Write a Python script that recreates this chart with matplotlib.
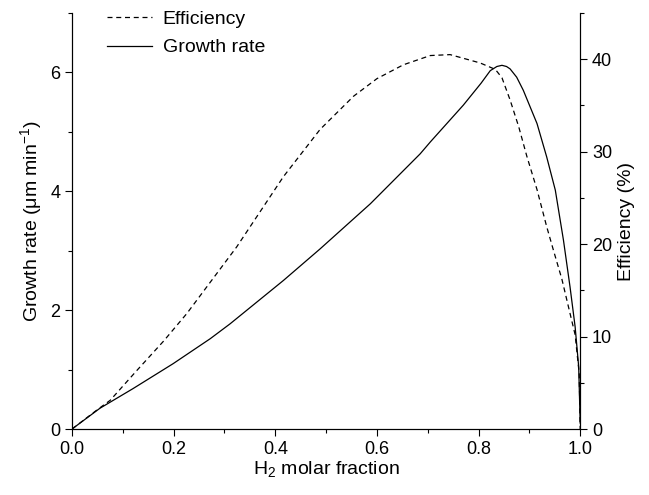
import numpy as np
import matplotlib.pyplot as plt
from matplotlib.ticker import MultipleLocator

plt.rcParams['font.family'] = ['Liberation Sans', 'DejaVu Sans']
plt.rcParams['mathtext.fontset'] = 'custom'
plt.rcParams['mathtext.rm'] = 'Liberation Sans'

# curve values
x_growth = [0.0, 0.055, 0.12, 0.199, 0.272, 0.311, 0.416, 0.488, 0.587,
            0.685, 0.705, 0.770, 0.805, 0.823, 0.836, 0.846, 0.855, 0.862,
            0.875, 0.888, 0.915, 0.934, 0.951, 0.967, 0.980, 0.990, 0.997, 1.0]
growth = [0.0, 0.35, 0.68, 1.10, 1.52, 1.77, 2.50, 3.03, 3.79,
          4.63, 4.83, 5.45, 5.82, 6.03, 6.10, 6.12, 6.10, 6.06,
          5.92, 5.70, 5.14, 4.58, 4.02, 3.18, 2.39, 1.72, 1.05, 0.1]

x_eff = [0.0, 0.05, 0.075, 0.127, 0.18, 0.226, 0.324, 0.416, 0.488, 0.554,
         0.60, 0.652, 0.705, 0.744, 0.803, 0.833, 0.846, 0.862, 0.879, 0.895,
         0.915, 0.934, 0.947, 0.964, 0.980, 0.990, 0.998, 1.0]
eff = [0.0, 2.1, 3.1, 6.3, 9.5, 12.5, 19.7, 27.3, 32.4, 36.0,
       37.9, 39.4, 40.4, 40.5, 39.6, 38.9, 38.0, 35.6, 32.7, 29.5,
       25.9, 21.9, 19.4, 16.2, 12.5, 10.2, 6.0, 0.0]

fig = plt.figure(figsize=(6.49, 4.95), dpi=100)
ax = fig.add_axes([0.111, 0.1333, 0.783, 0.8404])
ax2 = ax.twinx()

l2, = ax2.plot(x_eff, eff, 'k--', lw=0.9, dashes=(4, 3), label='Efficiency')
l1, = ax.plot(x_growth, growth, 'k-', lw=0.9, label='Growth rate')

ax.set_xlim(0, 1.0)
ax.set_ylim(0, 7)
ax2.set_ylim(0, 45)

ax.xaxis.set_major_locator(MultipleLocator(0.2))
ax.xaxis.set_minor_locator(MultipleLocator(0.1))
ax.yaxis.set_major_locator(MultipleLocator(2))
ax.yaxis.set_minor_locator(MultipleLocator(1))
ax2.yaxis.set_major_locator(MultipleLocator(10))
ax2.yaxis.set_minor_locator(MultipleLocator(5))
ax.xaxis.set_major_formatter(plt.FuncFormatter(lambda v, p: '%.1f' % v))

for a in (ax, ax2):
    a.spines['top'].set_visible(False)
    a.tick_params(which='major', length=5, width=0.8, labelsize=13)
    a.tick_params(which='minor', length=3, width=0.8)

ax.set_xlabel('H$_2$ molar fraction', fontsize=14, labelpad=1)
ax.set_ylabel('Growth rate (μm min$^{-1}$)', fontsize=14)
ax2.set_ylabel('Efficiency (%)', fontsize=14)

ax.legend([l2, l1], ['Efficiency', 'Growth rate'], loc='upper left',
          frameon=False, fontsize=14, bbox_to_anchor=(0.035, 1.048),
          handlelength=2.3, handletextpad=0.55, labelspacing=0.55)

plt.savefig('out.png')
